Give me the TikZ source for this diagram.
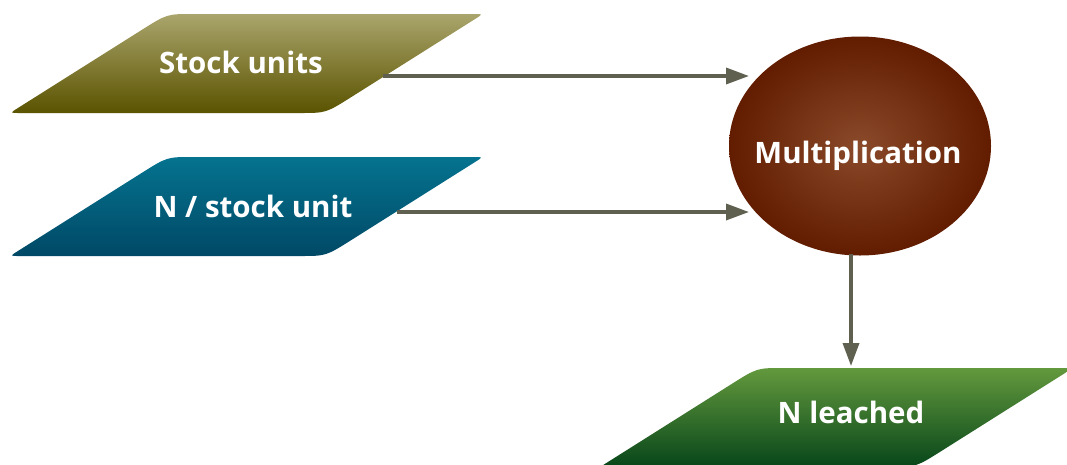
\documentclass[tikz,border=0pt]{standalone}
\usepackage{fontspec}
\setmainfont{Open Sans}
\usetikzlibrary{calc,arrows.meta,shapes.geometric}
\definecolor{suTop}{HTML}{AAA56C}
\definecolor{suBot}{HTML}{5A5300}
\definecolor{nsTop}{HTML}{05738F}
\definecolor{nsBot}{HTML}{004966}
\definecolor{nlTop}{HTML}{63993D}
\definecolor{nlBot}{HTML}{07461A}
\definecolor{mulIn}{HTML}{8A4A2A}
\definecolor{mulOut}{HTML}{621C00}
\definecolor{arr}{HTML}{5F604F}
\newcommand{\paraShape}[2]{%
  \shade[top color=#1,bottom color=#2]
    ($(BL)!9pt!(TL)$) .. controls (BL) .. ($(BL)!9pt!(BR)$)
    -- ($(BR)!26pt!(BL)$) .. controls (BR) .. ($(BR)!30pt!(TR)$)
    -- ($(TR)!9pt!(BR)$) .. controls (TR) .. ($(TR)!9pt!(TL)$)
    -- ($(TL)!26pt!(TR)$) .. controls (TL) .. ($(TL)!30pt!(BL)$)
    -- cycle;}
\tikzset{
  lbl/.style={text=white,font=\bfseries\fontsize{29.5}{31}\selectfont,anchor=base,inner sep=0pt},
  flow/.style={draw=arr,line width=3.5pt,-{Triangle[length=23pt,width=16pt]}},
}
\begin{document}
\begin{tikzpicture}[x=1pt,y=-1pt]
\useasboundingbox (0,0) rectangle (1067,464);
\clip (0,0) rectangle (1067,464);
% Stock units
\begin{scope}
  \coordinate (BL) at (10,113); \coordinate (TL) at (167,14);
  \coordinate (TR) at (483,14); \coordinate (BR) at (326,113);
  \paraShape{suTop}{suBot}
\end{scope}
% N / stock unit
\begin{scope}[shift={(0,143)}]
  \coordinate (BL) at (10,113); \coordinate (TL) at (167,14);
  \coordinate (TR) at (483,14); \coordinate (BR) at (326,113);
  \paraShape{nsTop}{nsBot}
\end{scope}
% N leached
\begin{scope}[shift={(590,354)}]
  \coordinate (BL) at (10,113); \coordinate (TL) at (167,14);
  \coordinate (TR) at (483,14); \coordinate (BR) at (326,113);
  \paraShape{nlTop}{nlBot}
\end{scope}
% ellipse
\node[ellipse,minimum width=262pt,minimum height=219pt,inner sep=0pt,
      inner color=mulIn,outer color=mulOut] (mulE) at (860,146) {};
% labels
\node[lbl] (su) at (241,73) {Stock units};
\node[lbl] (ns) at (253,217) {N / stock unit};
\node[lbl] (nl) at (851,423) {N leached};
\node[lbl] (mul) at (858,163) {Multiplication};
% connectors
\coordinate (s1) at (383,76);
\coordinate (e1) at (749,76);
\coordinate (s2) at (397,212);
\coordinate (e2) at (749,212);
\coordinate (s3) at (851,254);
\coordinate (e3) at (851,366);
\draw[flow] (s1) -- (e1);
\draw[flow] (s2) -- (e2);
\draw[flow] (s3) -- (e3);
\end{tikzpicture}
\end{document}
